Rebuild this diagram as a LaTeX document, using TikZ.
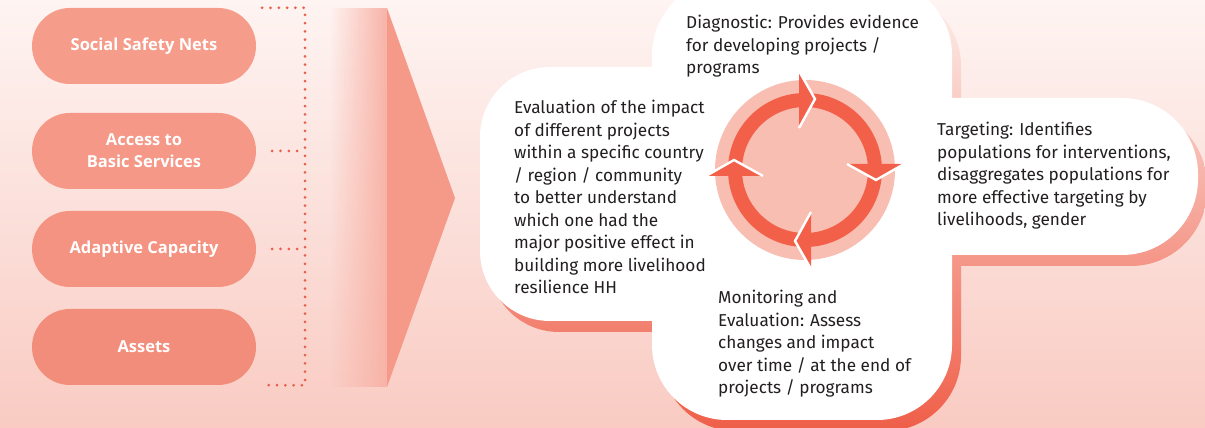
\documentclass[tikz,border=0pt]{standalone}
\usepackage{fontspec}
\setmainfont{Fira Sans}
\newfontfamily\pillfont{Open Sans}
\usetikzlibrary{shapes,arrows,positioning,fadings}

\definecolor{bgtop}{HTML}{FEF4F2}
\definecolor{bgbottom}{HTML}{F9CBC2}
\definecolor{pillsalmon}{HTML}{F59A89}
\definecolor{pillone}{HTML}{F69C8B}
\definecolor{pilltwo}{HTML}{F59887}
\definecolor{pillthree}{HTML}{F49381}
\definecolor{pillfour}{HTML}{F38D7B}
\definecolor{dotred}{HTML}{E95F4A}
\definecolor{ringred}{HTML}{F2604A}
\definecolor{ringpink}{HTML}{F8BEB2}
\definecolor{shadowtop}{HTML}{FDF1EE}
\definecolor{shadowmid}{HTML}{F8B8AB}
\definecolor{shadowbottom}{HTML}{EF5E48}
\definecolor{textgray}{HTML}{231F20}

\tikzfading[name=fadein, left color=transparent!100, right color=transparent!0]

\tikzset{
  pill/.style={rectangle, rounded corners=38pt, minimum width=224pt, minimum height=76pt,
    text=white, align=center, font=\pillfont\bfseries\fontsize{16.5}{22}\selectfont},
  dotline/.style={dotred, line width=3pt, line cap=round, dash pattern=on 0pt off 8.3pt},
  blurb/.style={anchor=north west, align=left, inner sep=0pt, text=textgray,
    font=\fontsize{17.2}{22.5}\selectfont},
}

\begin{document}
\begin{tikzpicture}[x=1pt, y=1pt]

	% Background
	\useasboundingbox (0,0) rectangle (1205,428);
	\shade[top color=bgtop, bottom color=bgbottom] (0,0) rectangle (1205,428);

	% Pills on the left
	\node[pill, fill=pillone] (ssn) at (144,382) {Social Safety Nets};
	\node[pill, fill=pilltwo] (access) at (144,277) {Access to\\Basic Services};
	\node[pill, fill=pillthree] (adaptive) at (144,179) {Adaptive Capacity};
	\node[pill, fill=pillfour] (assets) at (144,81) {Assets};

	% Dotted bracket
	\coordinate (bus) at (305,0);
	\draw[dotline] ([xshift=6pt]ssn.north east) -- (ssn.north east -| bus)
		-- (assets.south east -| bus) -- ([xshift=7pt]assets.south east);
	\draw[dotline] ([xshift=16pt]access.east) -- (access.east -| bus);
	\draw[dotline] ([xshift=16pt]adaptive.east) -- (adaptive.east -| bus);

	% Big arrow
	\fill[pillsalmon!75!white, path fading=fadein] (330,41) rectangle (387,420);
	\fill[pillsalmon] (387,420) -- (455,230) -- (387,41) -- cycle;

	% Cross shadow
	\shade[top color=shadowtop, middle color=shadowmid, bottom color=shadowbottom, shift={(9,-11)}]
		{[rounded corners=75] (652,8) rectangle (952,448)}
		{[rounded corners=70] (480,107) rectangle (760,361)}
		{[rounded corners=76] (850,173) rectangle (1198,330)};

	% Cross
	\fill[white]
		{[rounded corners=75] (652,8) rectangle (952,448)}
		{[rounded corners=70] (480,107) rectangle (760,361)}
		{[rounded corners=76] (850,173) rectangle (1198,330)};

	% Cycle
	\node[circle, fill=ringpink, minimum size=180pt, inner sep=0pt] (cycle) at (805,258) {};
	\draw[ringred, line width=14pt] (cycle.center) circle[radius=70];
	\foreach \a in {0,-90,-180,-270}{
		\begin{scope}[shift={(cycle.center)}, rotate=\a]
			\fill[ringred] (-6,42) -- (-6,99) -- (10,71) -- cycle;
			\draw[white, line width=2.4pt] (-6,99) -- (10,71) -- (-6,42);
		\end{scope}
	}

	% Texts
	\node[blurb] (diag) at (686,413) {Diagnostic: Provides evidence\\for developing projects /\\programs};
	\node[blurb] (eval) at (514,328) {Evaluation of the impact\\of different projects\\within a specific country\\/ region / community\\to better understand\\which one had the\\major positive effect in\\building more livelihood\\resilience HH};
	\node[blurb] (target) at (937,306) {Targeting: Identifies\\populations for interventions,\\disaggregates populations for\\more effective targeting by\\livelihoods, gender};
	\node[blurb] (monitor) at (718,138) {Monitoring and\\Evaluation: Assess\\changes and impact\\over time / at the end of\\projects / programs};

\end{tikzpicture}
\end{document}
